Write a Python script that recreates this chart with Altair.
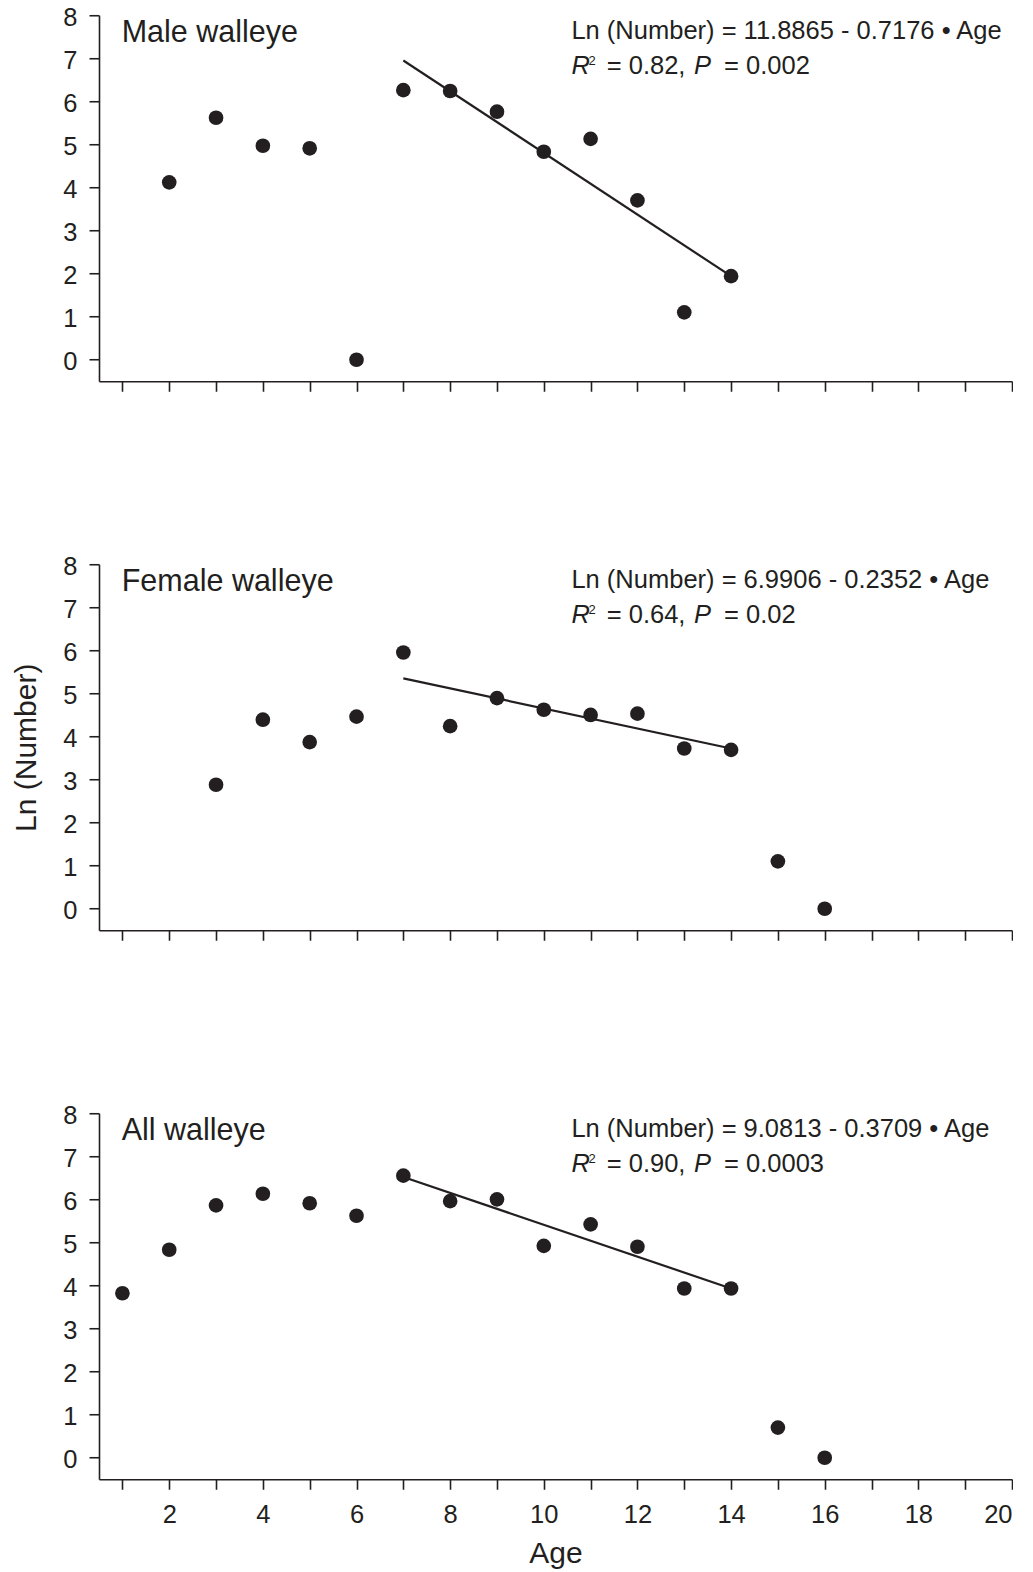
import altair as alt
import pandas as pd

FONT = "Liberation Sans"
INK = "#231f20"

# ---- data ----
ages_male = [2, 3, 4, 5, 6, 7, 8, 9, 10, 11, 12, 13, 14]
ln_male = [4.12, 5.62, 4.97, 4.91, 0.0, 6.26, 6.24, 5.76, 4.83, 5.13, 3.70, 1.10, 1.94]

ages_female = [3, 4, 5, 6, 7, 8, 9, 10, 11, 12, 13, 14, 15, 16]
ln_female = [2.88, 4.39, 3.87, 4.46, 5.95, 4.24, 4.89, 4.62, 4.50, 4.53, 3.72, 3.69, 1.10, 0.0]

ages_all = [1, 2, 3, 4, 5, 6, 7, 8, 9, 10, 11, 12, 13, 14, 15, 16]
ln_all = [3.82, 4.83, 5.86, 6.13, 5.91, 5.62, 6.55, 5.96, 6.00, 4.92, 5.42, 4.90, 3.93, 3.93, 0.70, 0.0]

fit_ages = [7, 14]
fit_male = [6.95, 1.94]
fit_female = [5.35, 3.72]
fit_all = [6.52, 3.93]

panel_labels = ["Male walleye", "Female walleye", "All walleye"]
equations = [
    "Ln (Number) = 11.8865 - 0.7176 \u2022 Age",
    "Ln (Number) = 6.9906 - 0.2352 \u2022 Age",
    "Ln (Number) = 9.0813 - 0.3709 \u2022 Age",
]
r2_texts = ["= 0.82,", "= 0.64,", "= 0.90,"]
p_texts = ["= 0.002", "= 0.02", "= 0.0003"]

x_ticks = list(range(1, 21))
y_ticks = list(range(0, 9))

# annotation anchor positions (data units)
LABEL_X, LABEL_Y = 0.985, 7.37
EQ_X, EQ_Y1, EQ_Y2 = 10.59, 7.46, 6.64


def x_enc(show_labels, title):
    kw = dict(values=x_ticks, labels=show_labels)
    if show_labels:
        kw["labelExpr"] = "datum.value % 2 === 0 ? datum.label : ''"
    return alt.X("age:Q", scale=alt.Scale(domain=[0.5, 20], nice=False, zero=False),
                 axis=alt.Axis(title=title, **kw))


def y_enc(title):
    return alt.Y("value:Q", scale=alt.Scale(domain=[-0.5, 8], nice=False, zero=False),
                 axis=alt.Axis(values=y_ticks, title=title))


def text_layer(x, y, txt, size, xe, ye, dx=0, dy=0, italic=False):
    df = pd.DataFrame({"age": [x], "value": [y], "t": [txt]})
    kw = dict(align="left", baseline="alphabetic", font=FONT, fontSize=size,
              color=INK, dx=dx, dy=dy)
    if italic:
        kw["fontStyle"] = "italic"
    return alt.Chart(df).mark_text(**kw).encode(x=xe, y=ye, text="t:N")


def panel(i, ages, vals, fit_vals, show_x, x_title, y_title):
    xe = x_enc(show_x, x_title)
    ye = y_enc(y_title)
    pts = alt.Chart(pd.DataFrame({"age": ages, "value": vals})).mark_circle(
        size=215, color=INK, opacity=1).encode(x=xe, y=ye)
    fit = alt.Chart(pd.DataFrame({"age": fit_ages, "value": fit_vals})).mark_line(
        color=INK, strokeWidth=2.2).encode(x=xe, y=ye)
    layers = [
        fit, pts,
        text_layer(LABEL_X, LABEL_Y, panel_labels[i], 30.5, xe, ye),
        text_layer(EQ_X, EQ_Y1, equations[i], 25.5, xe, ye),
        text_layer(EQ_X, EQ_Y2, "R", 25.5, xe, ye, italic=True),
        text_layer(EQ_X, EQ_Y2, "2", 13, xe, ye, dx=17, dy=-9),
        text_layer(EQ_X, EQ_Y2, r2_texts[i], 25.5, xe, ye, dx=35.3),
        text_layer(EQ_X, EQ_Y2, "P", 25.5, xe, ye, dx=122.6, italic=True),
        text_layer(EQ_X, EQ_Y2, p_texts[i], 25.5, xe, ye, dx=152.6),
    ]
    return alt.layer(*layers).properties(width=913, height=366)


p1 = panel(0, ages_male, ln_male, fit_male, False, None, None)
p2 = panel(1, ages_female, ln_female, fit_female, False, None, "Ln (Number)")
p3 = panel(2, ages_all, ln_all, fit_all, True, "Age", None)

chart = alt.vconcat(p1, p2, p3, spacing=183, bounds="flush").properties(
    padding={"left": 3, "top": -2.75, "right": 0, "bottom": 0}
).configure_view(stroke=None).configure_axis(
    domainColor=INK, domainWidth=1.6, tickColor=INK, tickWidth=1.6, tickSize=10,
    labelFont=FONT, labelFontSize=25.5, labelColor=INK, grid=False,
    titleFont=FONT, titleFontSize=30, titleFontWeight="normal", titleColor=INK,
).configure_axisY(labelPadding=12, titlePadding=21, labelOffset=2).configure_axisX(
    labelPadding=13, titlePadding=11)

chart.save("out.html", embed_options={"renderer": "svg", "actions": False})
